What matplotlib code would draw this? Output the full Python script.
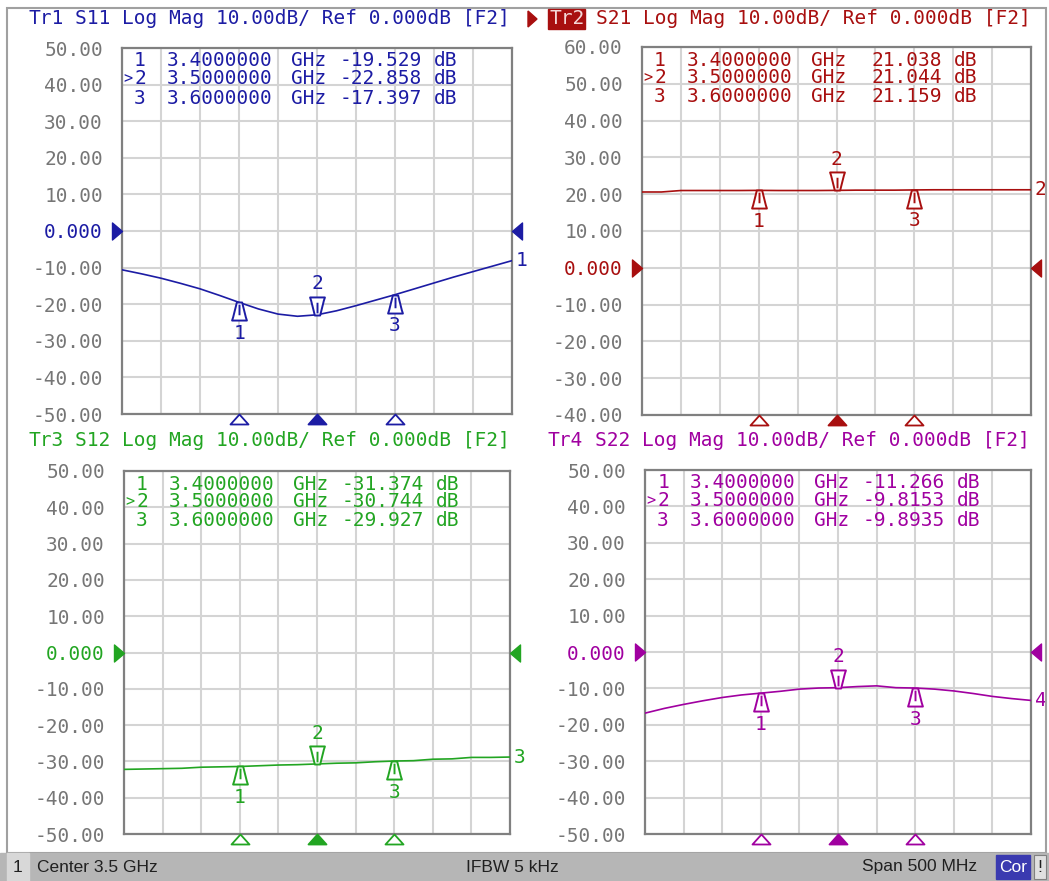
import matplotlib
matplotlib.use("Agg")
import matplotlib.pyplot as plt
from matplotlib.path import Path
from matplotlib.patches import Rectangle, Polygon

plt.rcParams['font.family'] = ['DejaVu Sans Mono']

W, H = 1049, 881

# ---------------- data ----------------
freq_ghz = [3.250, 3.275, 3.300, 3.325, 3.350, 3.375, 3.400, 3.425, 3.450, 3.475,
            3.500, 3.525, 3.550, 3.575, 3.600, 3.625, 3.650, 3.675, 3.700, 3.725, 3.750]
s11_db = [-10.6, -11.7, -12.9, -14.3, -15.8, -17.6, -19.5, -21.3, -22.7, -23.3,
          -22.9, -21.8, -20.4, -18.9, -17.4, -15.8, -14.2, -12.6, -11.1, -9.6, -8.1]
s21_db = [20.6, 20.6, 21.0, 21.0, 21.0, 21.0, 21.04, 21.0, 21.0, 21.0,
          21.04, 21.1, 21.1, 21.1, 21.16, 21.2, 21.2, 21.2, 21.2, 21.2, 21.2]
s12_db = [-32.2, -32.1, -32.0, -31.9, -31.6, -31.5, -31.4, -31.2, -31.0, -30.9,
          -30.7, -30.5, -30.4, -30.1, -29.9, -29.8, -29.4, -29.3, -28.9, -28.9, -28.8]
s22_db = [-16.8, -15.5, -14.4, -13.4, -12.5, -11.8, -11.3, -10.8, -10.2, -9.9,
          -9.8, -9.5, -9.3, -9.8, -9.9, -10.2, -10.7, -11.4, -12.2, -12.8, -13.3]

marker_freq_ghz = [3.4, 3.5, 3.6]
marker_freq_text = ["3.4000000", "3.5000000", "3.6000000"]
marker_ids = ["1", "2", "3"]
s11_marker_db = [-19.529, -22.858, -17.397]
s21_marker_db = [21.038, 21.044, 21.159]
s12_marker_db = [-31.374, -30.744, -29.927]
s22_marker_db = [-11.266, -9.8153, -9.8935]
s11_marker_text = ["-19.529", "-22.858", "-17.397"]
s21_marker_text = ["21.038", "21.044", "21.159"]
s12_marker_text = ["-31.374", "-30.744", "-29.927"]
s22_marker_text = ["-11.266", "-9.8153", "-9.8935"]

trace_names = ["Tr1", "Tr2", "Tr3", "Tr4"]
title_rest = ["S11 Log Mag 10.00dB/ Ref 0.000dB [F2]",
              "S21 Log Mag 10.00dB/ Ref 0.000dB [F2]",
              "S12 Log Mag 10.00dB/ Ref 0.000dB [F2]",
              "S22 Log Mag 10.00dB/ Ref 0.000dB [F2]"]
ylims = [(-50, 50), (-40, 60), (-50, 50), (-50, 50)]
xgrid_ghz = [3.25, 3.30, 3.35, 3.40, 3.45, 3.50, 3.55, 3.60, 3.65, 3.70, 3.75]
status_left = "Center 3.5 GHz"
status_mid = "IFBW 5 kHz"
status_right = "Span 500 MHz"

# ---------------- style ----------------
C1, C2, C3, C4 = '#1c1ca4', '#a80f0f', '#22a522', '#a000a0'
TICK = '#767676'
GRID = '#d4d4d4'
SPINE = '#808080'
FS = 14
ADV = 0.602 * FS * 100 / 72  # monospace advance in px

fig = plt.figure(figsize=(W / 100, H / 100), dpi=100)
fig.patch.set_facecolor('white')


def fx(x):
    return x / W


def fy(y):
    return 1 - y / H


# marker glyph paths (apex at origin)
up_v = [(-2.5, 0), (2.5, 0), (6, -14), (7, -17), (-7, -17), (-6, -14), (-2.5, 0),
        (0, -2), (0, -12)]
up_c = [Path.MOVETO, Path.LINETO, Path.LINETO, Path.LINETO, Path.LINETO, Path.LINETO,
        Path.CLOSEPOLY, Path.MOVETO, Path.LINETO]
mk_up = Path(up_v, up_c)
mk_down = Path([(x, -y) for x, y in up_v], up_c)
tri_up = Path([(0, 0), (-9, -10), (9, -10), (0, 0)],
              [Path.MOVETO, Path.LINETO, Path.LINETO, Path.CLOSEPOLY])
ref_left = Path([(0, 0), (-10, 8.5), (-10, -8.5), (0, 0)],
                [Path.MOVETO, Path.LINETO, Path.LINETO, Path.CLOSEPOLY])
ref_right = Path([(0, 0), (10, 8.5), (10, -8.5), (0, 0)],
                 [Path.MOVETO, Path.LINETO, Path.LINETO, Path.CLOSEPOLY])


def panel(box, ylim, color, vals, mdb, mtxt, trname, rest, trnum, title_xy,
          active=False):
    x0, y0, x1, y1 = box
    ax = fig.add_axes([fx(x0), fy(y1), (x1 - x0) / W, (y1 - y0) / H])
    ax.set_facecolor('white')
    ax.set_xlim(freq_ghz[0], freq_ghz[-1])
    ax.set_ylim(*ylim)
    ax.set_xticks(xgrid_ghz)
    yt = list(range(ylim[1], ylim[0] - 1, -10))
    ax.set_yticks(yt)
    ax.set_yticklabels(["0.000" if v == 0 else f"{v:.2f}" for v in yt])
    ax.tick_params(length=0, labelbottom=False, pad=13.7, labelsize=FS,
                   labelcolor=TICK)
    for lab, v in zip(ax.get_yticklabels(), yt):
        if v == 0:
            lab.set_color(color)
    ax.grid(True, color=GRID, lw=1.5)
    ax.set_axisbelow(True)
    for sp in ax.spines.values():
        sp.set_color(SPINE)
        sp.set_linewidth(1.6)
    ax.plot(freq_ghz, vals, color=color, lw=1.2, zorder=3)

    # reference level triangles
    ax.plot([freq_ghz[0]], [0], marker=ref_left, ms=14.4, color=color,
            mec=color, clip_on=False, zorder=5, ls='none')
    ax.plot([freq_ghz[-1]], [0], marker=ref_right, ms=14.4, color=color,
            mec=color, clip_on=False, zorder=5, ls='none')

    # markers on trace
    for i, (f, v) in enumerate(zip(marker_freq_ghz, mdb)):
        if i == 1:
            ax.plot([f], [v], marker=mk_down, ms=26, mfc='white', mec=color,
                    mew=1.4, ls='none', zorder=4)
            ax.annotate(marker_ids[i], xy=(f, v), xytext=(0, 31),
                        textcoords='offset pixels', ha='center', va='center',
                        color=color, fontsize=FS)
        else:
            ax.plot([f], [v], marker=mk_up, ms=26, mfc='white', mec=color,
                    mew=1.4, ls='none', zorder=4)
            ax.annotate(marker_ids[i], xy=(f, v), xytext=(0, -31),
                        textcoords='offset pixels', ha='center', va='center',
                        color=color, fontsize=FS)
        # bottom-edge marker triangles
        ax.plot([f], [0], transform=ax.get_xaxis_transform(), marker=tri_up,
                ms=14.4, mfc=(color if i == 1 else 'white'), mec=color, mew=1.3,
                clip_on=False, ls='none', zorder=5)

    # trace number at right end
    ax.annotate(trnum, xy=(freq_ghz[-1], vals[-1]), xytext=(4, 0),
                textcoords='offset pixels', ha='left', va='center', color=color,
                fontsize=FS, annotation_clip=False)

    # marker table
    rows_y = [y0 + 13, y0 + 30.5, y0 + 50]
    for i in range(3):
        ry = rows_y[i]
        if i == 1:
            fig.text(fx(x0 + 1), fy(ry), ">", color=color, fontsize=11,
                     ha='left', va='center')
        fig.text(fx(x0 + 18), fy(ry), marker_ids[i], color=color, fontsize=FS,
                 ha='center', va='center')
        fig.text(fx(x0 + 45), fy(ry), marker_freq_text[i], color=color,
                 fontsize=FS, ha='left', va='center')
        fig.text(fx(x0 + 169), fy(ry), "GHz", color=color, fontsize=FS,
                 ha='left', va='center')
        fig.text(fx(x0 + 300), fy(ry), mtxt[i], color=color, fontsize=FS,
                 ha='right', va='center')
        fig.text(fx(x0 + 312), fy(ry), "dB", color=color, fontsize=FS,
                 ha='left', va='center')

    # title
    tx, ty = title_xy
    if active:
        fig.patches.append(Rectangle((fx(tx - 1), fy(ty + 10)), 37 / W, 20 / H,
                                     transform=fig.transFigure, color=color,
                                     zorder=1))
        fig.patches.append(Polygon(
            [(fx(tx - 21), fy(ty - 8)), (fx(tx - 21), fy(ty + 8)),
             (fx(tx - 12), fy(ty))], closed=True, transform=fig.transFigure,
            color=color, zorder=1))
        fig.text(fx(tx), fy(ty), trname, color='#f4d8d8', fontsize=FS,
                 ha='left', va='center', zorder=2)
    else:
        fig.text(fx(tx), fy(ty), trname, color=color, fontsize=FS,
                 ha='left', va='center')
    fig.text(fx(tx + 4 * ADV), fy(ty), rest, color=color, fontsize=FS,
             ha='left', va='center', zorder=2)
    return ax


panel((122, 48, 512, 414), ylims[0], C1, s11_db, s11_marker_db, s11_marker_text,
      trace_names[0], title_rest[0], "1", (28.5, 19))
panel((642, 47, 1031, 415), ylims[1], C2, s21_db, s21_marker_db, s21_marker_text,
      trace_names[1], title_rest[1], "2", (549, 19), active=True)
panel((124, 471, 510, 834), ylims[2], C3, s12_db, s12_marker_db, s12_marker_text,
      trace_names[2], title_rest[2], "3", (28.5, 441))
panel((645, 470, 1031, 834), ylims[3], C4, s22_db, s22_marker_db, s22_marker_text,
      trace_names[3], title_rest[3], "4", (548, 441))

# outer frame
fig.patches.append(Rectangle((fx(7), fy(853)), (1046 - 7) / W, (853 - 8) / H,
                             transform=fig.transFigure, fill=False,
                             ec='#a0a0a0', lw=1.5, zorder=0))

# status bar
fig.patches.append(Rectangle((0, 0), 1, 28 / H, transform=fig.transFigure,
                             color='#b6b6b6', zorder=1))
fig.patches.append(Rectangle((fx(7), 0), 22 / W, 28 / H, transform=fig.transFigure,
                             color='#d8d8d8', zorder=1))
fig.patches.append(Rectangle((fx(996), fy(879)), 34 / W, 24 / H,
                             transform=fig.transFigure, color='#3a3ab0', zorder=1))
fig.patches.append(Rectangle((fx(1034), fy(879)), 12 / W, 24 / H,
                             transform=fig.transFigure, fc='#e0e0e0', ec='#808080',
                             lw=0.8, zorder=1))
SB = dict(family=['Liberation Sans', 'DejaVu Sans'], fontsize=12.5, va='center',
          zorder=3)
fig.text(fx(18), fy(867), "1", color='#202020', ha='center', **SB)
fig.text(fx(37), fy(867), status_left, color='#202020', ha='left', **SB)
fig.text(fx(512), fy(867), status_mid, color='#202020', ha='center', **SB)
fig.text(fx(977), fy(867), status_right, color='#202020', ha='right', **SB)
fig.text(fx(1013), fy(867), "Cor", color='white', ha='center', **SB)
fig.text(fx(1040), fy(867), "!", color='#202020', ha='center', **SB)

fig.savefig("out.png", dpi=100)
